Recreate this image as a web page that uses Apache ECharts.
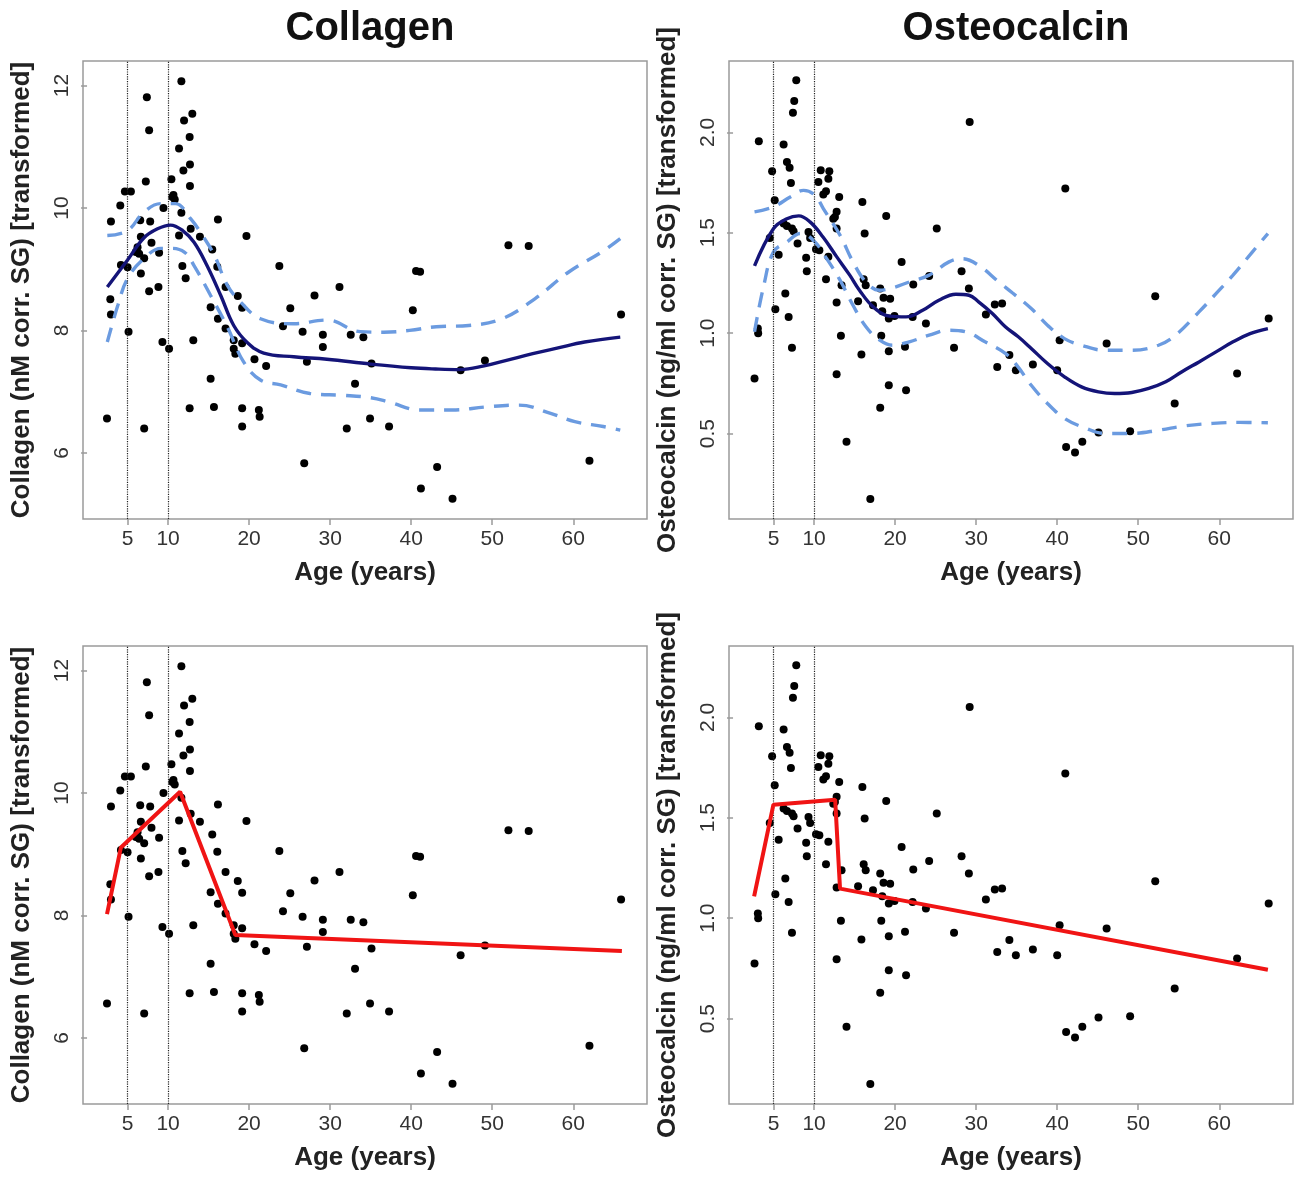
<!DOCTYPE html>
<html>
<head>
<meta charset="utf-8">
<title>Collagen / Osteocalcin vs age</title>
<script src="https://cdn.jsdelivr.net/npm/echarts@6/dist/echarts.min.js"></script>
<style>
  html, body { margin: 0; padding: 0; background: #fff; }
  #main { width: 1299px; height: 1182px; }
</style>
</head>
<body>
<div id="main"></div>
<script>
// values, pairs are [age, value]
const ageTicks = [5, 10, 20, 30, 40, 50, 60]
const cutAges = [5, 10] // dotted reference lines

const collagenPoints = [
  [2.46, 6.56], [2.95, 9.78], [2.87, 8.51], [2.95, 8.26], [4.1, 10.04], [4.67, 10.27], [5.41, 10.27],
  [4.18, 9.07], [5.0, 9.03], [5.12, 7.98], [6.56, 9.8], [7.79, 9.78], [7.25, 10.43], [7.38, 11.81],
  [7.66, 11.27], [6.64, 9.53], [6.23, 9.36], [6.02, 9.28], [6.43, 9.25], [7.05, 9.18], [6.64, 8.93],
  [7.95, 9.43], [8.89, 9.27], [7.66, 8.64], [8.81, 8.71], [7.05, 6.4], [9.43, 10.0], [10.41, 10.47],
  [10.66, 10.21], [10.82, 10.14], [10.53, 10.18], [9.3, 7.81], [10.12, 7.7], [11.64, 12.07],
  [11.97, 11.43], [12.99, 11.54], [12.66, 11.16], [11.35, 10.97], [12.7, 10.71], [11.89, 10.61],
  [12.7, 10.36], [11.64, 9.92], [11.35, 9.55], [12.79, 9.66], [13.93, 9.53], [11.76, 9.05],
  [12.17, 8.85], [13.11, 7.84], [12.66, 6.73], [16.15, 9.81], [15.45, 9.32], [16.07, 9.04],
  [17.09, 8.71], [15.25, 8.38], [16.15, 8.19], [18.6, 8.56], [19.14, 8.37], [17.09, 8.03],
  [18.1, 7.84], [18.1, 7.7], [18.3, 7.62], [19.14, 7.79], [19.67, 9.54], [15.25, 7.21],
  [15.66, 6.75], [19.14, 6.73], [19.14, 6.43], [21.2, 6.7], [21.3, 6.59], [20.66, 7.53],
  [22.1, 7.42], [23.73, 9.05], [25.08, 8.36], [24.18, 8.07], [26.6, 7.98], [28.07, 8.57],
  [29.1, 7.93], [29.1, 7.73], [27.13, 7.49], [26.8, 5.83], [31.15, 8.71], [32.54, 7.93],
  [34.1, 7.89], [33.07, 7.13], [32.05, 6.4], [34.92, 6.56], [35.1, 7.46], [37.27, 6.43],
  [40.2, 8.33], [40.6, 8.97], [41.1, 8.96], [41.2, 5.42], [43.2, 5.77], [45.1, 5.25],
  [46.1, 7.35], [49.1, 7.51], [52.0, 9.39], [54.5, 9.38], [62.0, 5.87], [65.9, 8.26]
]

const osteoPoints = [
  [2.65, 0.775], [3.06, 1.023], [3.1, 1.0], [3.18, 1.955], [4.82, 1.806], [5.14, 1.662], [4.53, 1.474],
  [5.63, 1.391], [5.22, 1.119], [6.45, 1.197], [6.86, 1.081], [7.27, 0.927], [6.24, 1.939],
  [6.65, 1.852], [6.98, 1.823], [7.14, 1.748], [7.8, 2.259], [7.55, 2.156], [7.39, 2.098],
  [6.24, 1.546], [6.65, 1.534], [7.27, 1.521], [7.47, 1.507], [7.96, 1.446], [9.02, 1.375],
  [9.1, 1.308], [9.31, 1.504], [9.51, 1.474], [10.24, 1.418], [10.65, 1.413], [10.82, 1.811],
  [10.53, 1.753], [11.88, 1.806], [11.76, 1.769], [11.47, 1.706], [11.14, 1.69], [13.1, 1.678],
  [12.78, 1.604], [12.57, 1.579], [12.37, 1.57], [12.78, 1.521], [11.76, 1.38], [11.47, 1.269],
  [13.39, 1.239], [12.78, 1.153], [13.31, 0.987], [12.78, 0.796], [14.0, 0.459], [15.96, 1.653],
  [16.24, 1.496], [16.12, 1.269], [16.37, 1.239], [15.43, 1.159], [15.84, 0.894], [16.94, 0.174],
  [17.27, 1.139], [18.16, 1.222], [18.57, 1.176], [19.39, 1.172], [18.41, 1.109], [18.29, 0.987],
  [19.22, 1.073], [19.22, 0.91], [18.9, 1.584], [19.22, 0.741], [18.16, 0.629], [20.8, 1.355],
  [19.92, 1.086], [21.22, 0.932], [21.35, 0.716], [22.24, 1.242], [22.16, 1.081], [23.8, 1.048],
  [24.2, 1.285], [25.14, 1.521], [27.27, 0.927], [28.2, 1.308], [29.1, 1.222], [29.2, 2.051],
  [31.2, 1.093], [32.3, 1.143], [33.2, 1.148], [32.6, 0.832], [34.1, 0.891], [34.9, 0.816],
  [37.0, 0.844], [40.3, 0.965], [40.0, 0.816], [41.0, 1.72], [46.1, 0.949], [52.1, 1.184],
  [41.1, 0.434], [42.2, 0.406], [43.1, 0.459], [45.1, 0.506], [49.0, 0.512], [54.5, 0.65],
  [62.2, 0.799], [66.1, 1.073]
]

// smooth fit (solid) with its confidence band (dashed)
const collagenFit = [
  [2.5, 8.71], [5, 9.15], [7, 9.51], [8.7, 9.66], [10.3, 9.72], [11.8, 9.63], [13.2, 9.44],
  [14.8, 9.06], [16.5, 8.57], [18.1, 8.08], [19.8, 7.8], [21.8, 7.63], [25.5, 7.57], [29.6, 7.53],
  [35, 7.45], [40, 7.39], [43, 7.37], [46, 7.36], [49, 7.42], [52, 7.52], [55, 7.62], [58, 7.71],
  [61.4, 7.81], [65.8, 7.89]
]
const collagenUpper = [
  [2.5, 9.55], [5, 9.63], [7, 9.93], [9.1, 10.07], [10.9, 10.07], [12.8, 9.82], [14.0, 9.6],
  [15.7, 9.23], [17.3, 8.74], [18.9, 8.47], [21.4, 8.19], [25.5, 8.11], [29.6, 8.17], [33.7, 7.98],
  [36.6, 7.97], [39.8, 8.0], [43.1, 8.06], [47.1, 8.08], [51.2, 8.19], [55.3, 8.52], [59.4, 8.95],
  [63.5, 9.28], [65.8, 9.5]
]
const collagenLower = [
  [2.5, 7.81], [3.8, 8.41], [5, 8.85], [7, 9.17], [9.1, 9.34], [10.3, 9.34], [12, 9.28],
  [13.2, 9.06], [15.25, 8.57], [17.3, 8.06], [19.3, 7.49], [21.4, 7.19], [23.9, 7.11], [27.5, 6.97],
  [31.6, 6.94], [35, 6.9], [37.3, 6.83], [41, 6.7], [45.1, 6.7], [49.2, 6.75], [53.3, 6.78],
  [57.3, 6.64], [60.2, 6.51], [63.7, 6.43], [65.8, 6.37]
]
const osteoFit = [
  [2.65, 1.335], [5.0, 1.521], [6.65, 1.57], [8.1, 1.584], [9.5, 1.554], [11.1, 1.479],
  [12.8, 1.38], [14.4, 1.289], [15.6, 1.214], [17.3, 1.131], [19.3, 1.085], [21.35, 1.081],
  [23.4, 1.114], [25.4, 1.164], [27.5, 1.194], [29.1, 1.189], [30.3, 1.156], [32.0, 1.098],
  [33.6, 1.032], [35.2, 0.982], [36.8, 0.924], [38.8, 0.849], [40.9, 0.783], [43.0, 0.733],
  [45.1, 0.708], [47.1, 0.7], [49.2, 0.705], [51.3, 0.725], [53.4, 0.758], [55.4, 0.808],
  [57.5, 0.857], [59.6, 0.907], [61.7, 0.957], [63.8, 0.998], [66.0, 1.023]
]
const osteoUpper = [
  [2.65, 1.604], [5.0, 1.629], [7.06, 1.678], [8.7, 1.711], [10.1, 1.687], [11.14, 1.62],
  [13.2, 1.488], [14.8, 1.355], [16.4, 1.255], [18.1, 1.214], [19.7, 1.226], [21.75, 1.255],
  [24.2, 1.289], [26.65, 1.355], [28.3, 1.371], [30.3, 1.338], [32.8, 1.255], [34.5, 1.2],
  [36.8, 1.123], [38.8, 1.04], [40.9, 0.973], [43.0, 0.94], [45.9, 0.915], [49.2, 0.915],
  [52.5, 0.94], [54.6, 0.99], [57.5, 1.106], [59.6, 1.197], [61.7, 1.289], [64.1, 1.405],
  [66.0, 1.496]
]
const osteoLower = [
  [2.65, 1.007], [3.8, 1.239], [5.0, 1.405], [6.65, 1.454], [8.3, 1.496], [9.9, 1.463],
  [11.55, 1.371], [13.2, 1.264], [14.8, 1.139], [16.4, 1.032], [18.1, 0.965], [19.7, 0.94],
  [21.75, 0.957], [24.2, 0.99], [26.65, 1.015], [28.7, 1.007], [31.1, 0.957], [33.6, 0.899],
  [35.0, 0.841], [36.8, 0.741], [38.8, 0.65], [40.9, 0.576], [43.4, 0.529], [45.9, 0.501],
  [49.2, 0.501], [52.5, 0.517], [55.8, 0.539], [59.2, 0.551], [62.5, 0.556], [66.0, 0.554]
]

// piecewise linear (broken-stick) fits
const collagenSegments = [[2.46, 8.02], [4.18, 9.11], [11.48, 10.02], [18.3, 7.68], [66.0, 7.42]]
const osteoSegments = [[2.6, 1.109], [4.98, 1.565], [12.6, 1.59], [13.2, 1.147], [66.0, 0.743]]

const collagenTicks = [6, 8, 10, 12]
const osteoTicks = [0.5, 1.0, 1.5, 2.0]

const font = "'Liberation Sans', Arial, Helvetica, sans-serif"
const boxColor = '#9a9a9a'

// panel boxes: [left, top] in px, same size for all four
const panels = [
  { left: 83, top: 61, yMin: 4.92, yMax: 12.4, ticks: collagenTicks, name: 'Collagen (nM corr. SG) [transformed]', digits: 0 },
  { left: 729, top: 61, yMin: 0.075, yMax: 2.355, ticks: osteoTicks, name: 'Osteocalcin (ng/ml corr. SG) [transformed]', digits: 1 },
  { left: 83, top: 646, yMin: 4.92, yMax: 12.4, ticks: collagenTicks, name: 'Collagen (nM corr. SG) [transformed]', digits: 0 },
  { left: 729, top: 646, yMin: 0.075, yMax: 2.355, ticks: osteoTicks, name: 'Osteocalcin (ng/ml corr. SG) [transformed]', digits: 1 }
]
const boxW = 564
const boxH = 458

const chart = echarts.init(document.getElementById('main'))

const grids = panels.map(p => ({
  left: p.left, top: p.top, width: boxW, height: boxH,
  show: true, borderColor: boxColor, borderWidth: 1.5, backgroundColor: '#fff'
}))

const xAxes = panels.map((p, i) => ({
  type: 'value', gridIndex: i, min: -0.5, max: 69.1,
  name: 'Age (years)', nameLocation: 'middle', nameGap: 41,
  nameTextStyle: { fontFamily: font, fontSize: 26, fontWeight: 'bold', color: '#222' },
  axisLine: { show: false },
  splitLine: { show: false },
  axisTick: { show: true, length: 6, customValues: ageTicks, lineStyle: { color: boxColor, width: 1.5 } },
  axisLabel: { margin: 10, customValues: ageTicks, fontFamily: font, fontSize: 21, color: '#333' }
}))

const yAxes = panels.map((p, i) => ({
  type: 'value', gridIndex: i, min: p.yMin, max: p.yMax,
  name: p.name, nameLocation: 'middle', nameGap: 48, nameRotate: 90,
  nameTextStyle: { fontFamily: font, fontSize: 26, fontWeight: 'bold', color: '#222' },
  axisLine: { show: false },
  splitLine: { show: false },
  axisTick: { show: true, length: 6, customValues: p.ticks, lineStyle: { color: boxColor, width: 1.5 } },
  axisLabel: {
    margin: 10, rotate: 90, customValues: p.ticks, fontFamily: font, fontSize: 21, color: '#333',
    formatter: v => v.toFixed(p.digits)
  }
}))

function scatterSeries (points, i) {
  return {
    type: 'scatter', xAxisIndex: i, yAxisIndex: i, data: points,
    symbol: 'circle', symbolSize: 8, itemStyle: { color: '#000', opacity: 1 },
    markLine: {
      silent: true, symbol: 'none', label: { show: false },
      lineStyle: { type: 'dotted', color: '#222', width: 1.2 },
      data: cutAges.map(a => ({ xAxis: a }))
    },
    z: 3
  }
}

function lineSeries (points, i, style) {
  return {
    type: 'line', xAxisIndex: i, yAxisIndex: i, data: points,
    showSymbol: false, smooth: style.smooth, lineStyle: style.lineStyle, z: style.z || 4
  }
}

const fitStyle = { smooth: 0.4, lineStyle: { color: '#141478', width: 3.4 }, z: 5 }
const bandStyle = { smooth: 0.4, lineStyle: { color: '#6b9be0', width: 3.4, type: [15, 10] }, z: 4 }
const segStyle = { smooth: false, lineStyle: { color: '#f01414', width: 4 }, z: 5 }

chart.setOption({
  animation: false,
  title: [
    { text: 'Collagen', left: 83 + boxW / 2, top: 4, textAlign: 'center',
      textStyle: { fontFamily: font, fontSize: 40, fontWeight: 'bold', color: '#111' } },
    { text: 'Osteocalcin', left: 729 + boxW / 2, top: 4, textAlign: 'center',
      textStyle: { fontFamily: font, fontSize: 40, fontWeight: 'bold', color: '#111' } }
  ],
  grid: grids,
  xAxis: xAxes,
  yAxis: yAxes,
  series: [
    scatterSeries(collagenPoints, 0),
    lineSeries(collagenUpper, 0, bandStyle),
    lineSeries(collagenLower, 0, bandStyle),
    lineSeries(collagenFit, 0, fitStyle),

    scatterSeries(osteoPoints, 1),
    lineSeries(osteoUpper, 1, bandStyle),
    lineSeries(osteoLower, 1, bandStyle),
    lineSeries(osteoFit, 1, fitStyle),

    scatterSeries(collagenPoints, 2),
    lineSeries(collagenSegments, 2, segStyle),

    scatterSeries(osteoPoints, 3),
    lineSeries(osteoSegments, 3, segStyle)
  ]
})
</script>
</body>
</html>
